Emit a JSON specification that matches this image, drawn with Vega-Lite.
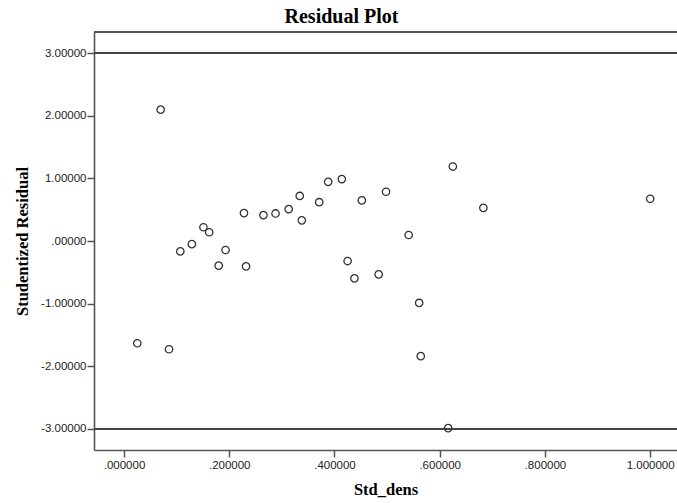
{
  "$schema": "https://vega.github.io/schema/vega-lite/v6.json",
  "autosize": "none",
  "padding": {"left": 94, "top": 32, "right": 0, "bottom": 53},
  "width": 583,
  "height": 418,
  "background": "white",
  "title": {
    "text": "Residual Plot",
    "font": "Liberation Serif",
    "fontSize": 20,
    "fontWeight": "bold",
    "color": "#000",
    "anchor": "middle",
    "dx": -44,
    "dy": 20,
    "baseline": "alphabetic",
    "offset": 8
  },
  "config": {
    "view": {"stroke": null},
    "axis": {
      "grid": false,
      "domainColor": "#555",
      "domainWidth": 1.6,
      "tickColor": "#555",
      "tickWidth": 1.5,
      "tickSize": 7,
      "labelFont": "Liberation Sans",
      "labelFontSize": 11.5,
      "labelColor": "#222",
      "titleFont": "Liberation Serif",
      "titleFontSize": 16.5,
      "titleFontWeight": "bold",
      "titleColor": "#000"
    }
  },
  "data": {
    "values": [
      {"Std_dens": 0.0253, "resid": -1.634},
      {"Std_dens": 0.0697, "resid": 2.10},
      {"Std_dens": 0.0856, "resid": -1.73},
      {"Std_dens": 0.107, "resid": -0.166},
      {"Std_dens": 0.129, "resid": -0.05},
      {"Std_dens": 0.151, "resid": 0.22},
      {"Std_dens": 0.162, "resid": 0.14},
      {"Std_dens": 0.180, "resid": -0.394},
      {"Std_dens": 0.193, "resid": -0.144},
      {"Std_dens": 0.228, "resid": 0.446},
      {"Std_dens": 0.232, "resid": -0.405},
      {"Std_dens": 0.265, "resid": 0.414},
      {"Std_dens": 0.288, "resid": 0.44},
      {"Std_dens": 0.313, "resid": 0.51},
      {"Std_dens": 0.334, "resid": 0.72},
      {"Std_dens": 0.338, "resid": 0.33},
      {"Std_dens": 0.371, "resid": 0.62},
      {"Std_dens": 0.388, "resid": 0.946},
      {"Std_dens": 0.414, "resid": 0.99},
      {"Std_dens": 0.425, "resid": -0.32},
      {"Std_dens": 0.438, "resid": -0.597},
      {"Std_dens": 0.452, "resid": 0.65},
      {"Std_dens": 0.484, "resid": -0.533},
      {"Std_dens": 0.498, "resid": 0.787},
      {"Std_dens": 0.541, "resid": 0.096},
      {"Std_dens": 0.561, "resid": -0.99},
      {"Std_dens": 0.564, "resid": -1.84},
      {"Std_dens": 0.616, "resid": -2.99},
      {"Std_dens": 0.625, "resid": 1.19},
      {"Std_dens": 0.683, "resid": 0.53},
      {"Std_dens": 1.0, "resid": 0.675}
    ]
  },
  "layer": [
    {
      "mark": {"type": "rule", "color": "#444", "strokeWidth": 1.2},
      "encoding": {"y": {"datum": 3, "type": "quantitative"}}
    },
    {
      "mark": {"type": "rule", "color": "#444", "strokeWidth": 1.2},
      "encoding": {"y": {"datum": -3, "type": "quantitative"}}
    },
    {
      "mark": {"type": "rule", "color": "#555", "strokeWidth": 1.6},
      "encoding": {"y": {"datum": 3.34, "type": "quantitative"}}
    },
    {
      "mark": {"type": "point", "shape": "circle", "filled": false, "size": 55, "stroke": "#333", "strokeWidth": 1.3, "opacity": 1},
      "encoding": {
        "x": {
          "field": "Std_dens",
          "type": "quantitative",
          "title": "Std_dens",
          "scale": {"domain": [-0.057, 1.051], "nice": false, "zero": false},
          "axis": {
            "values": [0, 0.2, 0.4, 0.6, 0.8, 1.0],
            "labelExpr": "datum.value < 1 ? slice(format(datum.value, '.6f'), 1) : format(datum.value, '.6f')",
            "labelPadding": 2,
            "titleY": 44,
            "titleBaseline": "alphabetic"
          }
        },
        "y": {
          "field": "resid",
          "type": "quantitative",
          "title": "Studentized Residual",
          "scale": {"domain": [-3.34, 3.34], "nice": false, "zero": false},
          "axis": {
            "values": [-3, -2, -1, 0, 1, 2, 3],
            "labelExpr": "datum.value == 0 ? '.00000' : replace(format(datum.value, '.5f'), '\u2212', '-')",
            "labelPadding": 1,
            "titleX": -67,
            "titleY": 209,
            "titleAngle": -90,
            "titleAlign": "center",
            "titleBaseline": "alphabetic"
          }
        }
      }
    }
  ]
}
